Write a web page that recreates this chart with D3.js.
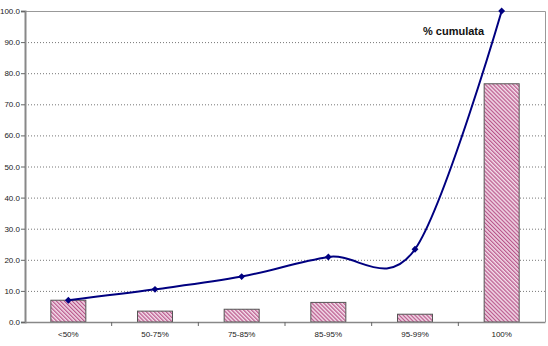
<!DOCTYPE html>
<html>
<head>
<meta charset="utf-8">
<script src="https://cdn.jsdelivr.net/npm/d3@7"></script>
<style>
  body { margin: 0; background: #fff; }
  svg { display: block; }
</style>
</head>
<body>
<div id="main"></div>
<script>
// data
const categories = ["<50%", "50-75%", "75-85%", "85-95%", "95-99%", "100%"];
const shares = [7.0, 3.5, 4.1, 6.3, 2.5, 76.6];
const cumulative = [7.0, 10.5, 14.6, 20.9, 23.4, 100.0];
const yTicks = [0, 10, 20, 30, 40, 50, 60, 70, 80, 90, 100];

const W = 548, H = 346;
const plot = { left: 25, top: 11, right: 545, bottom: 322 };

const svg = d3.select("#main")
    .append("svg")
    .attr("width", W)
    .attr("height", H)
    .style("font-family", "'Liberation Sans', Arial, sans-serif");

// hatched fill for the bars
const defs = svg.append("defs");
const pat = defs.append("pattern")
    .attr("id", "hatch")
    .attr("patternUnits", "userSpaceOnUse")
    .attr("width", 2.8)
    .attr("height", 2.8)
    .attr("patternTransform", "rotate(-45)");
pat.append("rect").attr("width", 2.8).attr("height", 2.8).attr("fill", "#f2dbe8");
pat.append("line")
    .attr("x1", 0).attr("y1", 0).attr("x2", 0).attr("y2", 2.8)
    .attr("stroke", "#b9558a").attr("stroke-width", 2.4);

const x = d3.scaleBand()
    .domain(categories)
    .range([plot.left, plot.right]);

const y = d3.scaleLinear()
    .domain([0, 100])
    .range([plot.bottom, plot.top]);

// gridlines
svg.append("g")
    .selectAll("line")
    .data(yTicks.filter(t => t > 0 && t < 100))
    .join("line")
    .attr("x1", plot.left)
    .attr("x2", plot.right)
    .attr("y1", d => y(d) + 0.5)
    .attr("y2", d => y(d) + 0.5)
    .attr("stroke", "#777")
    .attr("stroke-width", 1)
    .attr("stroke-dasharray", "1,2");

// plot border top/right
svg.append("path")
    .attr("d", `M${plot.left},${y(100) + 0.5}H${plot.right + 0.5}V${plot.bottom}`)
    .attr("fill", "none")
    .attr("stroke", "#999")
    .attr("stroke-width", 1);

// bars
const barW = 35;
svg.append("g")
    .selectAll("rect")
    .data(shares)
    .join("rect")
    .attr("x", (d, i) => x(categories[i]) + x.bandwidth() / 2 - barW / 2)
    .attr("y", d => y(d))
    .attr("width", barW)
    .attr("height", d => y(0) - y(d))
    .attr("fill", "url(#hatch)")
    .attr("stroke", "#555")
    .attr("stroke-width", 1);

// y axis
const yAxis = svg.append("g")
    .attr("transform", `translate(${plot.left},0)`)
    .call(d3.axisLeft(y).tickValues(yTicks).tickSize(4).tickFormat(d3.format(".1f")));
yAxis.select(".domain").attr("stroke", "#888").attr("stroke-width", 2);
yAxis.selectAll(".tick line").attr("stroke", "#666");
yAxis.selectAll("text")
    .attr("x", -5)
    .attr("fill", "#222")
    .style("font-size", "8px")
    .style("font-family", "'Liberation Sans', Arial, sans-serif");

// x axis
const xAxis = svg.append("g")
    .attr("transform", `translate(0,${plot.bottom})`)
    .call(d3.axisBottom(x).tickSize(0).tickPadding(9));
xAxis.select(".domain").attr("stroke", "#888").attr("stroke-width", 1.5);
xAxis.selectAll("text")
    .attr("fill", "#222")
    .style("font-size", "8px")
    .style("font-family", "'Liberation Sans', Arial, sans-serif");
// boundary ticks between categories
xAxis.append("g")
    .selectAll("line")
    .data(categories.slice(1))
    .join("line")
    .attr("x1", d => x(d))
    .attr("x2", d => x(d))
    .attr("y1", 0)
    .attr("y2", 4)
    .attr("stroke", "#666");

// cumulative line, smoothed
const line = d3.line()
    .x((d, i) => x(categories[i]) + x.bandwidth() / 2)
    .y(d => y(d))
    .curve(d3.curveCatmullRom.alpha(0));

svg.append("path")
    .datum(cumulative)
    .attr("d", line)
    .attr("fill", "none")
    .attr("stroke", "#000080")
    .attr("stroke-width", 2);

svg.append("g")
    .selectAll("path")
    .data(cumulative)
    .join("path")
    .attr("transform", (d, i) => `translate(${x(categories[i]) + x.bandwidth() / 2},${y(d)})`)
    .attr("d", d3.symbol(d3.symbolDiamond2, 30))
    .attr("fill", "#000080");

// label
svg.append("text")
    .attr("x", 423)
    .attr("y", 35)
    .style("font-size", "11px")
    .style("font-weight", "bold")
    .attr("fill", "#111")
    .text("% cumulata");
</script>
</body>
</html>
